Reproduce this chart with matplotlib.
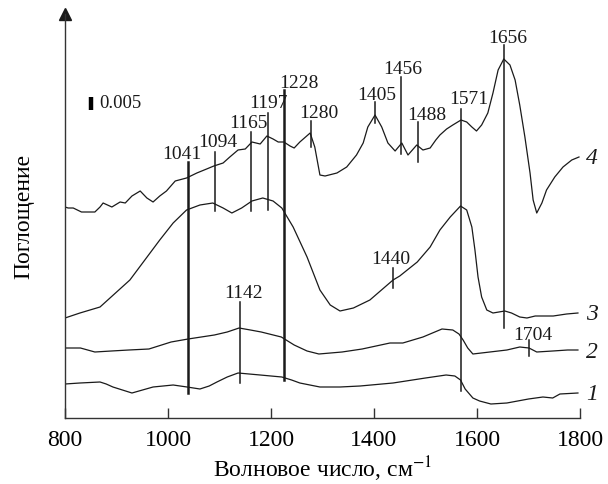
import numpy as np
import matplotlib
matplotlib.use('Agg')
import matplotlib.pyplot as plt

# spectra, absorbance in arbitrary units (curves offset vertically)
wn_4 = [800, 806, 816, 832, 858, 868, 874, 891, 907, 917, 930, 946, 959, 971, 984, 997, 1014,
        1036, 1056, 1075, 1089, 1107, 1120, 1136, 1150, 1163, 1179, 1192, 1204, 1214, 1225, 1237,
        1245, 1256, 1276, 1285, 1295, 1305, 1328, 1347, 1366, 1379, 1388, 1402, 1415, 1427, 1441,
        1454, 1466, 1483, 1495, 1509, 1520, 1528, 1541, 1553, 1569, 1580, 1590, 1599, 1609, 1621,
        1631, 1641, 1652, 1664, 1674, 1683, 1693, 1703, 1709, 1716, 1726, 1735, 1751, 1767, 1784,
        1798]
abs_4 = [211, 210, 210, 206, 206, 211, 215, 211, 216, 215, 222, 227, 220, 216, 222, 227, 237,
         240, 245, 249, 252, 255, 261, 268, 269, 276, 274, 282, 279, 276, 276, 272,
         270, 276, 285, 271, 243, 242, 245, 251, 263, 275, 291, 303, 291, 275, 267,
         275, 263, 273, 268, 270, 278, 283, 289, 293, 298, 296, 291, 287, 293, 305,
         325, 348, 359, 353, 338, 313, 281, 245, 218, 205, 215, 228, 241, 251, 258,
         261]

wn_3 = [800, 829, 868, 926, 984, 1010, 1036, 1062, 1087, 1107, 1124, 1143, 1163, 1184, 1204, 1221,
        1243, 1270, 1295, 1315, 1334, 1360, 1392, 1437, 1450, 1484, 1509, 1528, 1548, 1568, 1580,
        1590, 1596, 1602, 1609, 1619, 1631, 1654, 1667, 1683, 1697, 1713, 1748, 1774, 1796]
abs_3 = [100, 105, 111, 138, 178, 195, 208, 213, 215, 210, 205, 210, 217, 220, 217, 210,
         191, 161, 128, 113, 107, 110, 118, 138, 142, 156, 171, 188, 201, 212, 208,
         191, 168, 141, 121, 108, 105, 107, 105, 101, 100, 102, 102, 104, 105]

wn_2 = [800, 830, 858, 890, 924, 963, 1006, 1039, 1090, 1115, 1138, 1160, 1181, 1220, 1245, 1270,
        1293, 1338, 1377, 1431, 1456, 1495, 1532, 1553, 1565, 1573, 1582, 1592, 1625, 1658, 1683,
        1701, 1716, 1747, 1776, 1796]
abs_2 = [70, 70, 66, 67, 68, 69, 76, 79, 83, 86, 90, 88, 86, 81, 73, 67,
         64, 66, 69, 75, 75, 81, 89, 88, 84, 78, 70, 64, 66, 68, 71,
         70, 66, 67, 68, 68]

wn_1 = [800, 829, 868, 880, 893, 930, 971, 1010, 1037, 1062, 1080, 1095, 1115, 1136, 1179, 1221,
        1240, 1256, 1295, 1334, 1373, 1437, 1500, 1540, 1557, 1568, 1577, 1592, 1605, 1627, 1658,
        1700, 1728, 1747, 1761, 1796]
abs_1 = [34, 35, 36, 34, 31, 25, 31, 33, 31, 29, 32, 36, 41, 45, 43, 41,
         38, 35, 31, 31, 32, 35, 40, 43, 42, 38, 29, 20, 17, 14, 15,
         19, 21, 20, 24, 25]

curve_names = ['1', '2', '3', '4']

# assigned bands
peaks = [1041, 1094, 1165, 1197, 1228, 1280, 1405, 1456, 1488, 1571, 1656, 1142, 1440, 1704]
# marker line extents (bottom, top) and label anchor (x, baseline)
line_lo = [25, 207, 207, 208, 38, 271, 295, 264, 256, 27, 90, 35, 130, 62]
line_hi = [256, 266, 286, 305, 328, 297, 316, 341, 296, 309, 373, 116, 150, 78]
label_x = [1027, 1097, 1157, 1196, 1254, 1293, 1406, 1456, 1503, 1584, 1660, 1146, 1433, 1709]
label_y = [259, 271, 290, 310, 330, 300, 318, 344, 298, 314, 375, 120, 154, 78]
thick = [1041, 1228]

plt.rcParams['font.family'] = ['Liberation Serif', 'DejaVu Serif']
plt.rcParams['mathtext.fontset'] = 'stix'

ink = '#1a1a1a'
fig = plt.figure(figsize=(6.08, 4.84), dpi=100)
ax = fig.add_axes([65 / 608, 66 / 484, 515 / 608, 404 / 484])

for wn, ab in [(wn_1, abs_1), (wn_2, abs_2), (wn_3, abs_3), (wn_4, abs_4)]:
    ax.plot(wn, ab, '-', color=ink, lw=0.9)

for i, p in enumerate(peaks):
    lw = 1.8 if p in thick else 1.1
    ax.plot([p - 3, p - 3], [line_lo[i], line_hi[i]], '-', color=ink, lw=lw)
    ax.text(label_x[i], label_y[i], str(p), ha='center', va='baseline', fontsize=14, color=ink)

# curve numbers
for name, ab in zip(curve_names, [abs_1, abs_2, abs_3, abs_4]):
    ax.text(1812, ab[-1] - 2, name, ha='left', va='center', fontsize=17,
            style='italic', color=ink, clip_on=False)

# scale bar 0.005
ax.plot([851, 851], [308, 321], '-', color='k', lw=3.2, solid_capstyle='butt')
ax.text(866, 314, '0.005', ha='left', va='center', fontsize=13.5, color=ink)

ax.set_xlim(800, 1800)
ax.set_ylim(0, 404)
ax.spines['top'].set_visible(False)
ax.spines['right'].set_visible(False)
for s in ['left', 'bottom']:
    ax.spines[s].set_color('#333333')
    ax.spines[s].set_linewidth(1.0)
ax.plot(0, 1, '^', color=ink, markersize=8, transform=ax.transAxes, clip_on=False)

ax.set_xticks([800, 1000, 1200, 1400, 1600, 1800])
ax.set_yticks([])
ax.tick_params(axis='x', direction='in', length=7, width=1.0, color='#333333',
               labelsize=17, pad=9)
ax.set_xlabel('Волновое число, см$^{-1}$', fontsize=17, labelpad=2)
ax.set_ylabel('Поглощение', fontsize=17, labelpad=22)

fig.savefig('out.png', dpi=100)
